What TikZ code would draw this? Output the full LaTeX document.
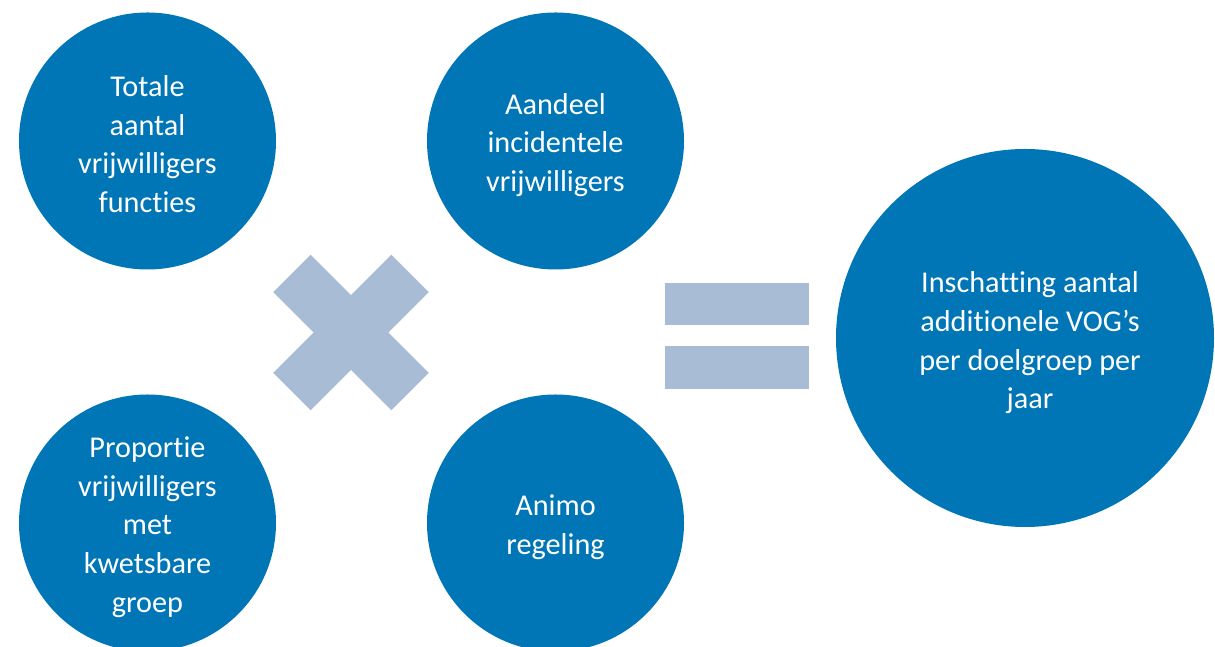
\documentclass[tikz,border=0pt]{standalone}
\usepackage{fontspec}
\setmainfont{Carlito}[Ligatures=NoCommon]
\definecolor{vogBlauw}{RGB}{0,118,182}
\definecolor{vogGrijs}{RGB}{169,188,214}

\begin{document}
\begin{tikzpicture}[
    factor/.style={circle, fill=vogBlauw, minimum size=5.14cm, inner sep=0pt},
    uitkomst/.style={circle, fill=vogBlauw, minimum size=7.56cm, inner sep=0pt},
    tekstWit/.style={align=center, text=white, inner sep=0pt, font=\fontsize{17.2}{22}\selectfont},
    kruisBalk/.style={fill=vogGrijs, minimum width=3.34cm, minimum height=1.06cm, inner sep=0pt},
    isBalk/.style={fill=vogGrijs, minimum width=2.88cm, minimum height=0.85cm, inner sep=0pt}
  ]
  \useasboundingbox (0,0) rectangle (24.3,12.94);

  % Factoren
  \node[factor] (totaal) at (2.95,10.12) {};
  \node[tekstWit] at ([yshift=-0.06cm]totaal.center) {Totale\\aantal\\vrijwilligers\\functies};
  \node[factor] (aandeel) at (11.11,10.12) {};
  \node[tekstWit] at ([yshift=-0.08cm]aandeel.center) {Aandeel\\incidentele\\vrijwilligers};
  \node[factor] (proportie) at (2.95,2.48) {};
  \node[tekstWit] at ([yshift=-0.08cm]proportie.center) {Proportie\\vrijwilligers\\met\\kwetsbare\\groep};
  \node[factor] (animo) at (11.11,2.48) {};
  \node[tekstWit] at ([yshift=-0.09cm]animo.center) {Animo\\regeling};

  % Maal-teken
  \node[kruisBalk, rotate=45] (kruisA) at (7.02,6.29) {};
  \node[kruisBalk, rotate=-45] (kruisB) at (7.02,6.29) {};

  % Is-teken
  \node[isBalk] (isBoven) at (14.74,6.86) {};
  \node[isBalk] (isOnder) at (14.74,5.59) {};

  % Uitkomst
  \node[uitkomst] (schatting) at (20.5,6.18) {};
  \node[tekstWit] at ([xshift=0.1cm, yshift=-0.1cm]schatting.center) {Inschatting aantal\\additionele VOG’s\\per doelgroep per\\jaar};

\end{tikzpicture}
\end{document}
